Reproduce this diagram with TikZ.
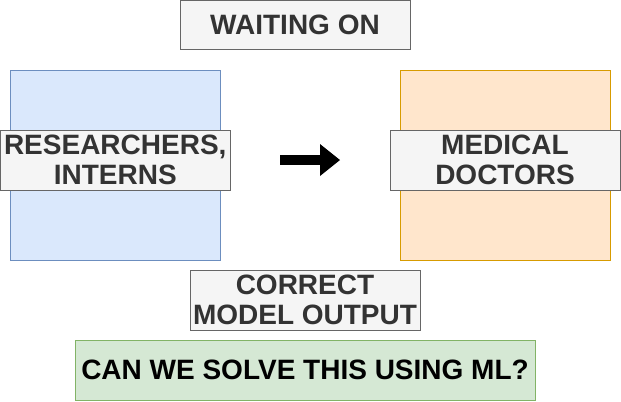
\documentclass[tikz,border=0pt]{standalone}
\usepackage{fontspec}
\setmainfont{Liberation Sans}
\usetikzlibrary{arrows.meta}
\definecolor{blueFill}{RGB}{218,232,252}
\definecolor{blueLine}{RGB}{108,142,191}
\definecolor{orangeFill}{RGB}{255,230,204}
\definecolor{orangeLine}{RGB}{215,155,0}
\definecolor{grayFill}{RGB}{245,245,245}
\definecolor{grayLine}{RGB}{102,102,102}
\definecolor{grayText}{RGB}{51,51,51}
\definecolor{greenFill}{RGB}{213,232,212}
\definecolor{greenLine}{RGB}{130,179,102}

\begin{document}
\begin{tikzpicture}[x=0.75pt,y=0.75pt,yscale=-1,xscale=1,
  panel/.style={draw,line width=0.75pt,minimum width=157.5pt,minimum height=142.5pt,inner sep=0pt},
  label box/.style={draw=grayLine,fill=grayFill,text=grayText,line width=0.75pt,
    minimum width=172.5pt,minimum height=45pt,inner sep=0pt,align=center,
    font=\bfseries\fontsize{21}{22}\selectfont},
  question/.style={draw=greenLine,fill=greenFill,text=black,line width=0.75pt,
    minimum width=345pt,minimum height=45pt,inner sep=0pt,
    font=\bfseries\fontsize{21}{22}\selectfont},
  flow/.style={line width=7.75pt,-{Triangle[length=15pt,width=24pt,line width=0pt]}}]
\useasboundingbox (0,0) rectangle (621,401);

% coloured panels
\node [panel,draw=blueLine,fill=blueFill] (left) at (115,165) {};
\node [panel,draw=orangeLine,fill=orangeFill] (right) at (505,165) {};

% labels
\node [label box,minimum height=36.75pt] (waiting) at (295,25.25) {WAITING ON};
\node [label box] (researchers) at (115.25,160) {RESEARCHERS,\\INTERNS};
\node [label box] (doctors) at (505,160) {MEDICAL\\DOCTORS};
\node [label box] (output) at (305,300) {CORRECT\\MODEL OUTPUT};
\node [question] (ml) at (305,370) {CAN WE SOLVE THIS USING ML?};

% arrow between the panels
\coordinate (tail) at (280,160);
\coordinate (tip) at (340,160);
\draw [flow] (tail) -- (tip);

\end{tikzpicture}
\end{document}
